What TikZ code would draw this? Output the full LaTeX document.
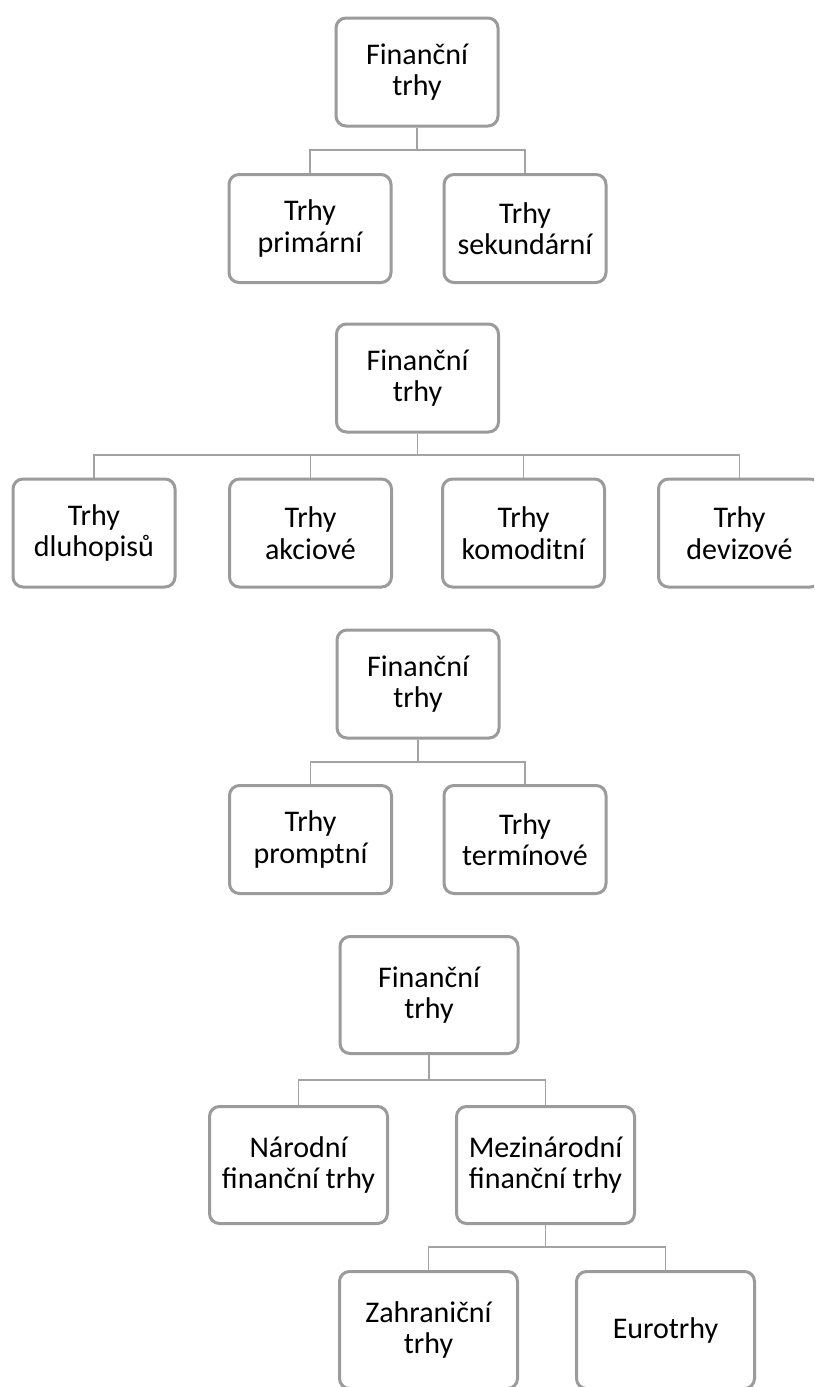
\documentclass[tikz,border=0pt]{standalone}
\usepackage{fontspec}
\setmainfont{Carlito}
\definecolor{boxgray}{HTML}{9B9B9B}
\definecolor{linegray}{HTML}{A3A3A3}
\begin{document}
\begin{tikzpicture}[x=1pt,y=-1pt,
  box/.style={draw=boxgray, line width=3pt, rounded corners=10pt, fill=white,
    align=center, inner sep=0pt, font=\fontsize{30}{31.5}\selectfont,
    minimum width=162pt, minimum height=108pt},
  bigbox/.style={box, minimum width=178pt, minimum height=117pt},
  conn/.style={draw=linegray, line width=1.8pt}]
\useasboundingbox (0,0) rectangle (814,1387);
\clip (0,0) rectangle (814,1387);
\fill[white] (0,0) rectangle (814,1387);

% Diagram 1
\node[box] (r1) at (417,72) {Finanční\\trhy};
\node[box] (c11) at (310,228.5) {Trhy\\primární};
\node[box] (c12) at (525,228.5) {Trhy\\sekundární};
\coordinate (b1) at (0,150);
\draw[conn] (r1.south) -- (r1.south |- b1) -| (c11.north);
\draw[conn] (r1.south |- b1) -| (c12.north);

% Diagram 2
\node[box] (r2) at (417.5,378) {Finanční\\trhy};
\node[box] (c21) at (94,533) {Trhy\\dluhopisů};
\node[box] (c22) at (310.5,533) {Trhy\\akciové};
\node[box] (c23) at (523.5,533) {Trhy\\komoditní};
\node[box] (c24) at (739.5,533) {Trhy\\devizové};
\coordinate (b2) at (0,455);
\draw[conn] (r2.south) -- (r2.south |- b2);
\draw[conn] (c21.north) |- (c24.north |- b2) -- (c24.north);
\draw[conn] (c22.north) -- (c22.north |- b2);
\draw[conn] (c23.north) -- (c23.north |- b2);

% Diagram 3
\node[box] (r3) at (418,684) {Finanční\\trhy};
\node[box] (c31) at (310.5,839.5) {Trhy\\promptní};
\node[box] (c32) at (525,839.5) {Trhy\\termínové};
\coordinate (b3) at (0,762);
\draw[conn] (r3.south) -- (r3.south |- b3) -| (c31.north);
\draw[conn] (r3.south |- b3) -| (c32.north);

% Diagram 4
\node[bigbox] (r4) at (429,995) {Finanční\\trhy};
\node[bigbox] (c41) at (298.5,1165) {Národní\\finanční trhy};
\node[bigbox] (c42) at (545.5,1165) {Mezinárodní\\finanční trhy};
\node[bigbox] (c43) at (428.5,1330) {Zahraniční\\trhy};
\node[bigbox] (c44) at (665.5,1330) {Eurotrhy};
\coordinate (b4) at (0,1080);
\coordinate (b5) at (0,1247);
\draw[conn] (r4.south) -- (r4.south |- b4) -| (c41.north);
\draw[conn] (r4.south |- b4) -| (c42.north);
\draw[conn] (c42.south) -- (c42.south |- b5) -| (c43.north);
\draw[conn] (c42.south |- b5) -| (c44.north);
\end{tikzpicture}
\end{document}
